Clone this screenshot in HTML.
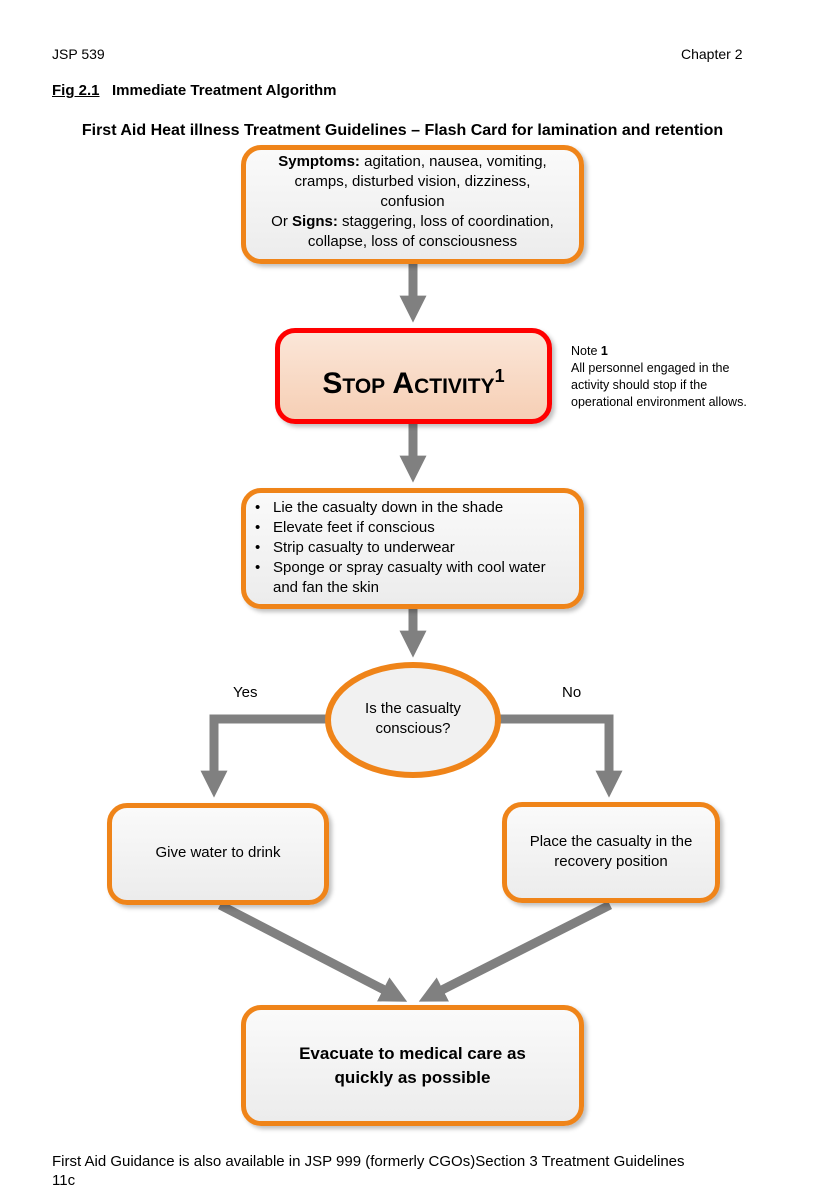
<!DOCTYPE html>
<html><head><meta charset="utf-8"><style>
body{margin:0;background:#fff;}
.p{position:relative;width:839px;height:1200px;overflow:hidden;font-family:"Liberation Sans",Arial,sans-serif;color:#000;}
.t{position:absolute;white-space:nowrap;}
.box{position:absolute;box-sizing:border-box;border:5px solid #ef8419;border-radius:20px;background:linear-gradient(#fafafa,#ececec);box-shadow:3px 3px 4px rgba(0,0,0,0.25);}
.c{position:absolute;text-align:center;font-size:15px;line-height:20px;}
</style></head><body><div class="p">
<div class="t" style="left:52px;top:46px;font-size:14px">JSP 539</div>
<div class="t" style="left:681px;top:46px;font-size:14px">Chapter 2</div>
<div class="t" style="left:52px;top:82px;font-size:15px;font-weight:bold"><u>Fig 2.1</u>&nbsp;&nbsp; Immediate Treatment Algorithm</div>
<div class="t" style="left:0;width:805px;text-align:center;top:122px;font-size:16px;font-weight:bold">First Aid Heat illness Treatment Guidelines – Flash Card for lamination and retention</div>

<svg style="position:absolute;left:0;top:0" width="839" height="1200">
<defs><marker id="a" markerWidth="3" markerHeight="3" refX="1.6" refY="1.5" orient="auto" markerUnits="strokeWidth"><path d="M0,0L3,1.5L0,3z" fill="#808080"/></marker></defs>
<g stroke="#808080" stroke-width="9" fill="none">
<line x1="413" y1="263" x2="413" y2="310" marker-end="url(#a)"/>
<line x1="413" y1="423" x2="413" y2="470" marker-end="url(#a)"/>
<line x1="413" y1="608" x2="413" y2="645" marker-end="url(#a)"/>
<polyline points="330,719 214,719 214,785" marker-end="url(#a)"/>
<polyline points="496,719 609,719 609,785" marker-end="url(#a)"/>
<line x1="220" y1="905" x2="396" y2="996" marker-end="url(#a)"/>
<line x1="610" y1="905" x2="430" y2="996" marker-end="url(#a)"/>
</g>
<ellipse cx="413" cy="720" rx="85" ry="55" fill="#f1f1f1" stroke="#ef8419" stroke-width="6"/>
</svg>

<div class="box" style="left:241px;top:145px;width:343px;height:119px"></div>
<div class="c" style="left:241px;top:152px;width:343px">
<b>Symptoms:</b> agitation, nausea, vomiting,<br>cramps, disturbed vision, dizziness,<br>confusion<br>Or <b>Signs:</b> staggering, loss of coordination,<br>collapse, loss of consciousness</div>

<div class="box" style="left:275px;top:328px;width:277px;height:96px;border-color:#ff0000;background:linear-gradient(#fbe6d8,#f6cfb5)"></div>
<div class="c" style="left:275px;top:356px;width:277px;font-size:30px;line-height:40px;font-weight:bold;font-variant:small-caps">Stop Activity<sup style="font-size:18px">1</sup></div>

<div class="t" style="left:571px;top:343px;font-size:12.5px;line-height:17px">Note <b>1</b><br>All personnel engaged in the<br>activity should stop if the<br>operational environment allows.</div>

<div class="box" style="left:241px;top:488px;width:343px;height:121px"></div>
<div class="t" style="left:255px;top:498px;font-size:15px;line-height:20px">•<br>•<br>•<br>•</div>
<div class="t" style="left:273px;top:498px;font-size:15px;line-height:20px">Lie the casualty down in the shade<br>Elevate feet if conscious<br>Strip casualty to underwear<br>Sponge or spray casualty with cool water<br>and fan the skin</div>

<div class="c" style="left:326px;top:699px;width:174px">Is the casualty<br>conscious?</div>
<div class="t" style="left:233px;top:684px;font-size:15px">Yes</div>
<div class="t" style="left:562px;top:684px;font-size:15px">No</div>

<div class="box" style="left:107px;top:803px;width:222px;height:102px"></div>
<div class="c" style="left:107px;top:843px;width:222px">Give water to drink</div>
<div class="box" style="left:502px;top:802px;width:218px;height:101px"></div>
<div class="c" style="left:502px;top:832px;width:218px">Place the casualty in the<br>recovery position</div>

<div class="box" style="left:241px;top:1005px;width:343px;height:121px"></div>
<div class="c" style="left:241px;top:1042px;width:343px;font-size:17px;line-height:24px;font-weight:bold">Evacuate to medical care as<br>quickly as possible</div>

<div class="t" style="left:52px;top:1152px;font-size:15px;line-height:19px">First Aid Guidance is also available in JSP 999 (formerly CGOs)Section 3 Treatment Guidelines<br>11c</div>
</div></body></html>
